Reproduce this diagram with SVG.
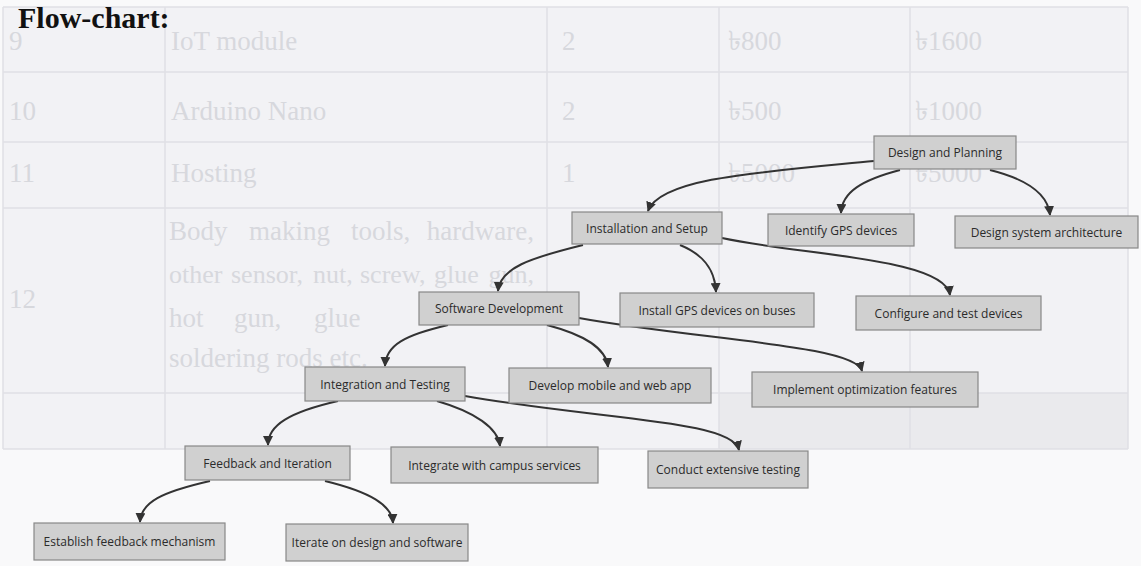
<svg xmlns="http://www.w3.org/2000/svg" width="1141" height="566" viewBox="0 0 1141 566">
<defs>
<style>
.bg-tab{fill:#f2f2f5}
.tl{stroke:#e0e0e5;stroke-width:1.5;fill:none}
.tt{font-family:"Liberation Serif",serif;font-size:27px;fill:#d7d8dd}
.te{text-anchor:end}
.box rect{fill:#d0d0d0;stroke:#888;stroke-width:1.2}
.box text{font-family:"Open Sans","DejaVu Sans",sans-serif;font-size:12px;fill:#2b2b2b;text-anchor:middle;dominant-baseline:central}
.edge{fill:none;stroke:#333;stroke-width:2}
.title{font-family:"Liberation Serif",serif;font-weight:bold;font-size:30px;fill:#111}
</style>
<marker id="ah" viewBox="0 0 10 10" refX="9" refY="5" markerWidth="10" markerHeight="10" markerUnits="userSpaceOnUse" orient="auto">
<path d="M0,0 L10,5 L0,10 z" fill="#333"/>
</marker>
</defs>
<rect width="1141" height="566" fill="#f9f9fa"/>
<g id="table-bg">
<rect x="3" y="7" width="1125" height="442" class="bg-tab"/>
<rect x="719" y="393" width="409" height="56" fill="#eaeaed"/>
<path class="tl" d="M3 7 H1128 M3 72 H1128 M3 142 H1128 M3 208 H1128 M3 393 H1128 M3 449 H1128 M3 7 V449 M165 7 V449 M547 7 V449 M719 7 V449 M910 7 V449 M1128 7 V449"/>
<text class="tt" x="9" y="50">9</text>
<text class="tt" x="171" y="50">IoT module</text>
<text class="tt" x="562" y="50">2</text>
<text class="tt" x="728" y="50">৳800</text>
<text class="tt" x="915" y="50">৳1600</text>
<text class="tt" x="9" y="120">10</text>
<text class="tt" x="171" y="120">Arduino Nano</text>
<text class="tt" x="562" y="120">2</text>
<text class="tt" x="728" y="120">৳500</text>
<text class="tt" x="915" y="120">৳1000</text>
<text class="tt" x="9" y="182">11</text>
<text class="tt" x="171" y="182">Hosting</text>
<text class="tt" x="562" y="182">1</text>
<text class="tt" x="728" y="182">৳5000</text>
<text class="tt" x="915" y="182">৳5000</text>
<text class="tt" x="9" y="308">12</text>
<text class="tt" y="240"><tspan x="169">Body</tspan><tspan x="249">making</tspan><tspan x="351">tools,</tspan></text>
<text class="tt te" x="534" y="240">hardware,</text>
<text class="tt" y="283" style="font-size:26px"><tspan x="169">other</tspan><tspan x="231">sensor,</tspan><tspan x="313">nut,</tspan><tspan x="360">screw,</tspan><tspan x="434">glue</tspan></text>
<text class="tt te" x="534" y="283" style="font-size:26px">gun,</text>
<text class="tt" y="327"><tspan x="169">hot</tspan><tspan x="234">gun,</tspan><tspan x="314">glue</tspan></text>
<text class="tt" x="169" y="367">soldering rods etc.</text>
</g>
<text class="title" x="18" y="28">Flow-chart:</text>
<g id="connectors">
<path class="edge" marker-end="url(#ah)" d="M874 161 C760 172 660 178 648 211"/>
<path class="edge" marker-end="url(#ah)" d="M900 170 C862 180 842 192 841 213"/>
<path class="edge" marker-end="url(#ah)" d="M990 170 C1030 180 1048 195 1050 215"/>
<path class="edge" marker-end="url(#ah)" d="M583 245 C530 258 500 268 498 291"/>
<path class="edge" marker-end="url(#ah)" d="M680 245 C702 254 715 268 716 292"/>
<path class="edge" marker-end="url(#ah)" d="M722 238 C800 255 945 258 950 295"/>
<path class="edge" marker-end="url(#ah)" d="M448 325 C405 335 386 345 385 366"/>
<path class="edge" marker-end="url(#ah)" d="M547 325 C585 335 606 348 608 367"/>
<path class="edge" marker-end="url(#ah)" d="M579 318 C700 340 855 345 862 371"/>
<path class="edge" marker-end="url(#ah)" d="M338 401 C290 412 268 425 268 445"/>
<path class="edge" marker-end="url(#ah)" d="M437 401 C475 412 498 428 500 446"/>
<path class="edge" marker-end="url(#ah)" d="M465 396 C600 420 732 420 739 450"/>
<path class="edge" marker-end="url(#ah)" d="M210 481 C162 492 141 502 140 522"/>
<path class="edge" marker-end="url(#ah)" d="M325 481 C370 492 392 505 393 523"/>
</g>
<g id="n1" class="box"><rect x="874" y="136" width="142" height="33"/><text x="945" y="152.5">Design and Planning</text></g>
<g id="n2" class="box"><rect x="572" y="212" width="150" height="32"/><text x="647" y="228">Installation and Setup</text></g>
<g id="n3" class="box"><rect x="768" y="214" width="146" height="32"/><text x="841" y="230">Identify GPS devices</text></g>
<g id="n4" class="box"><rect x="955" y="216" width="183" height="32"/><text x="1046.5" y="232">Design system architecture</text></g>
<g id="n5" class="box"><rect x="419" y="292" width="160" height="33"/><text x="499" y="308.5">Software Development</text></g>
<g id="n6" class="box"><rect x="620" y="293" width="194" height="34"/><text x="717" y="310">Install GPS devices on buses</text></g>
<g id="n7" class="box"><rect x="856" y="296" width="185" height="34"/><text x="948.5" y="313">Configure and test devices</text></g>
<g id="n8" class="box"><rect x="305" y="367" width="160" height="34"/><text x="385" y="384">Integration and Testing</text></g>
<g id="n9" class="box"><rect x="509" y="368" width="202" height="35"/><text x="610" y="385.5">Develop mobile and web app</text></g>
<g id="n10" class="box"><rect x="752" y="372" width="226" height="35"/><text x="865" y="389.5">Implement optimization features</text></g>
<g id="n11" class="box"><rect x="185" y="446" width="165" height="34"/><text x="267.5" y="463">Feedback and Iteration</text></g>
<g id="n12" class="box"><rect x="391" y="447" width="207" height="36"/><text x="494.5" y="465">Integrate with campus services</text></g>
<g id="n13" class="box"><rect x="648" y="451" width="160" height="37"/><text x="728" y="469.5">Conduct extensive testing</text></g>
<g id="n14" class="box"><rect x="34" y="523" width="191" height="37"/><text x="129.5" y="541.5">Establish feedback mechanism</text></g>
<g id="n15" class="box"><rect x="286" y="524" width="182" height="37"/><text x="377" y="542.5">Iterate on design and software</text></g>
</svg>
